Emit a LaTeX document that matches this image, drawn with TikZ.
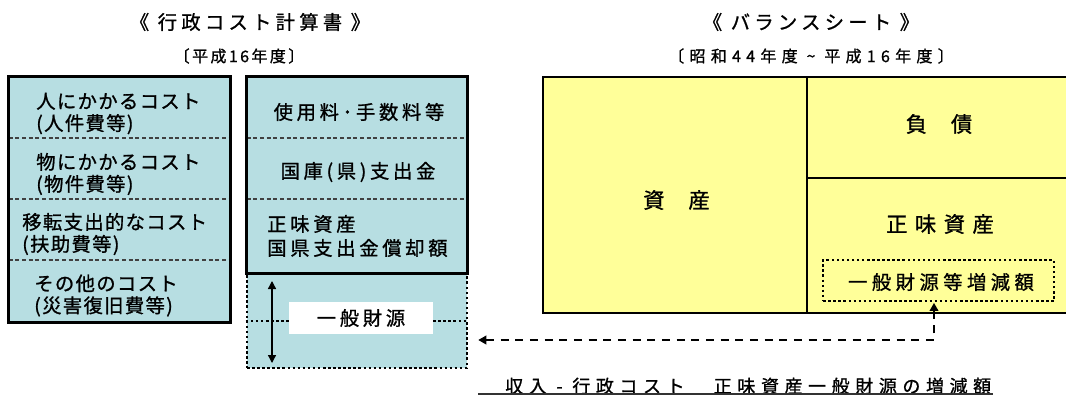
\documentclass[tikz,border=0pt]{standalone}
\usepackage{fontspec}
\setmainfont[FakeBold=1.0]{Noto Sans CJK JP}
\usetikzlibrary{arrows.meta,fit}
\definecolor{cblue}{RGB}{183,222,226}
\definecolor{cyel}{RGB}{255,255,153}
\tikzset{
  ttl/.style={inner sep=0pt, font=\fontsize{14.5pt}{17pt}\selectfont\addfontfeature{LetterSpace=22}},
  subt/.style={inner sep=0pt, font=\fontsize{12pt}{14pt}\selectfont\addfontfeature{LetterSpace=15}},
  subtw/.style={inner sep=0pt, font=\fontsize{12pt}{14pt}\selectfont\addfontfeature{LetterSpace=33}},
  ltx/.style={inner sep=0pt, align=left, font=\fontsize{14.5pt}{16.5pt}\selectfont\addfontfeature{LetterSpace=7}},
  mtx/.style={inner sep=0pt, align=left, font=\fontsize{14.5pt}{18pt}\selectfont\addfontfeature{LetterSpace=19}},
  btx/.style={inner sep=0pt, font=\fontsize{16pt}{18pt}\selectfont\addfontfeature{LetterSpace=6}},
  ntx/.style={inner sep=0pt, font=\fontsize{16pt}{18pt}\selectfont\addfontfeature{LetterSpace=35}},
  bstx/.style={inner sep=0pt, font=\fontsize{14.5pt}{16pt}\selectfont\addfontfeature{LetterSpace=23}},
  notetx/.style={inner sep=0pt, font=\fontsize{13.5pt}{16pt}\selectfont\addfontfeature{LetterSpace=31}},
  bluebox/.style={fill=cblue, inner sep=0pt},
  yelbox/.style={fill=cyel, inner sep=0pt},
  solidb/.style={draw=black, line width=2.2pt},
  dotb/.style={draw=black, line width=1.9pt, dash pattern=on 1.9pt off 1.9pt},
  sep/.style={draw=black!75, line width=0.8pt, dash pattern=on 3pt off 2pt},
  conn/.style={draw=black, line width=1.2pt, dash pattern=on 6pt off 5pt},
}
\begin{document}
\begin{tikzpicture}[x=0.75pt,y=-0.75pt]
\useasboundingbox (0,0) rectangle (1066,396);

% titles
\node[ttl] (t1) at (250,22) {《 行政コスト計算書 》};
\node[subt] (s1) at (239,56) {〔平成16年度〕};
\node[ttl] (t2) at (811,22) {《 バランスシート 》};
\node[subtw] (s2) at (811,56) {〔昭和44年度 \char"007E{} 平成16年度〕};

% ---- cost statement, left column
\node[bluebox, fit={(9,77)(230,322)}] (costbox) {};
\foreach \yy in {138,199,260}
  \draw[sep] (costbox.west |- 0,\yy) -- (costbox.east |- 0,\yy);
\draw[solidb] (costbox.south west) rectangle (costbox.north east);
\node[ltx, anchor=west] (c1) at (36,113.5) {人にかかるコスト\\(人件費等)};
\node[ltx, anchor=west] (c2) at (36,174) {物にかかるコスト\\(物件費等)};
\node[ltx, anchor=west] (c3) at (22,234) {移転支出的なコスト\\(扶助費等)};
\node[ltx, anchor=west] (c4) at (34,295.5) {その他のコスト\\(災害復旧費等)};

% ---- cost statement, right column
\node[bluebox, dotb, fit={(247,273)(467,368)}] (ippanbox) {};
\node[bluebox, fit={(247,77)(467,273)}] (revbox) {};
\foreach \yy in {138,199}
  \draw[sep] (revbox.west |- 0,\yy) -- (revbox.east |- 0,\yy);
\draw[solidb] (revbox.south west) rectangle (revbox.north east);
\node[mtx] (m1) at (359,112) {使用料･手数料等};
\node[mtx] (m2) at (358,172) {国庫(県)支出金};
\node[mtx, anchor=west] (m3) at (267,236) {正味資産\\国県支出金償却額};
\coordinate (midl) at (247,321);
\draw[dotb] (ippanbox.west |- midl) -- (ippanbox.east |- midl);
\node[fill=white, minimum width=108pt, minimum height=24pt, inner sep=0pt] (ippanlbl) at (361,318) {};
\node[mtx] (ippantx) at (361,318) {一般財源};
\coordinate (dtop) at (272,281);
\coordinate (dbot) at (272,363);
\draw[line width=1pt, {Triangle[length=6pt,width=6pt]}-{Triangle[length=6pt,width=6pt]}] (dtop) -- (dbot);

% ---- balance sheet
\node[yelbox, solidb, fit={(543,77)(1072,313)}] (bs) {};
\coordinate (divtop) at (807,77);
\coordinate (divmid) at (807,178);
\coordinate (divbot) at (807,313);
\draw[solidb] (divtop) -- (divbot);
\draw[solidb] (divmid) -- (divmid -| bs.east);
\node[btx] (asset) at (676.5,200) {資　産};
\node[btx] (liab) at (939,124) {負　債};
\node[ntx] (netasset) at (940,224) {正味資産};
\node[dotb, minimum width=173pt, minimum height=30.75pt, inner sep=0pt] (zgz) at (938.5,280.5) {};
\node[bstx] (zgztx) at (941,282) {一般財源等増減額};

% ---- connector
\coordinate (turn) at (934,340);
\draw[conn, {Triangle[length=6pt,width=6.5pt]}-{Triangle[length=6pt,width=6.5pt]}] ([xshift=7.5pt]ippanbox.east |- turn) -- (turn) -- ([yshift=-0.5pt]zgz.south -| turn);

% ---- bottom note
\node[notetx, anchor=west] (note) at (505,386) {収入 - 行政コスト　正味資産一般財源の増減額};
\coordinate (ulstart) at (478,394);
\draw[line width=0.9pt, black!80] (ulstart) -- ([xshift=1.5pt]note.east |- ulstart);
\end{tikzpicture}
\end{document}
